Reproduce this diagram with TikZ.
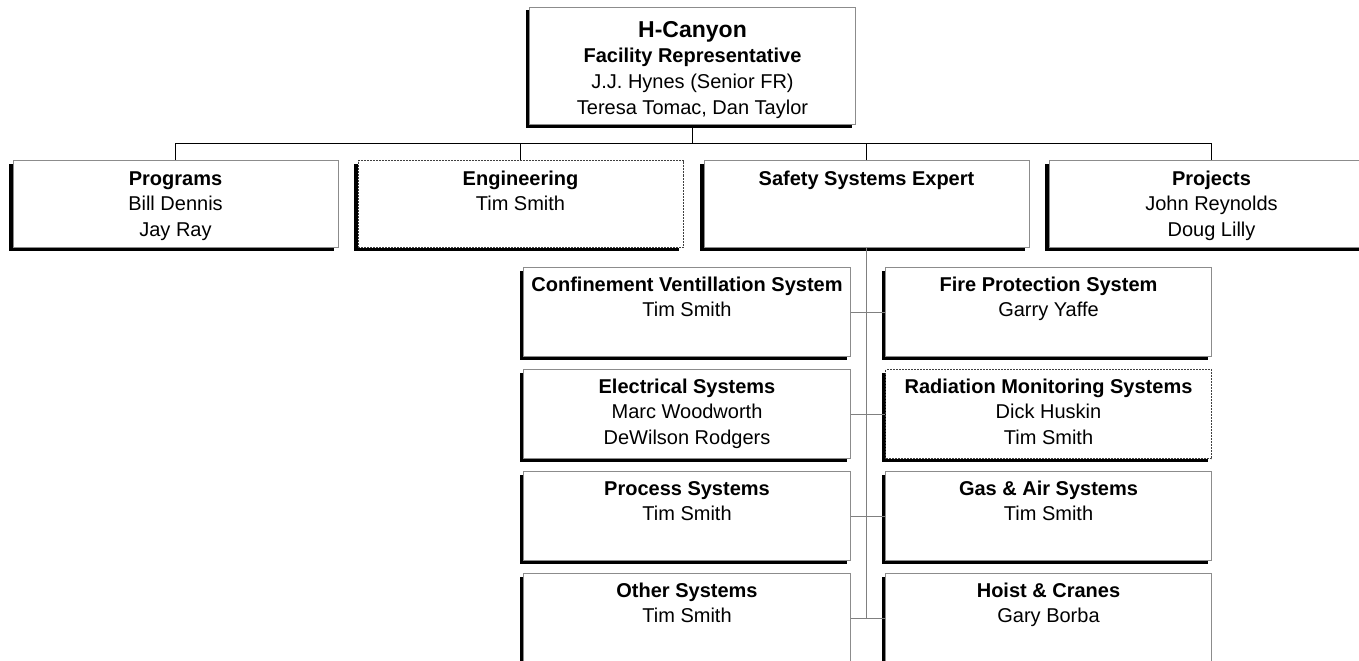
\documentclass[tikz,border=0pt]{standalone}
\usepackage{fontspec}
\setmainfont{Liberation Sans}
\usetikzlibrary{calc}
\definecolor{bordergray}{HTML}{8C8C8C}
\definecolor{linegray}{HTML}{808080}
\tikzset{
  boxshape/.style={draw=bordergray, fill=white, line width=0.75pt, inner sep=0pt, anchor=north west},
  dashbox/.style={draw=black!75, dash pattern=on 1.5pt off 0.75pt},
  txt/.style={anchor=north, inner sep=0pt, align=center, font=\fontsize{15}{19.25}\selectfont},
  conn/.style={draw=black, line width=0.75pt},
  gconn/.style={draw=linegray, line width=0.75pt},
}
% #1 name, #2 left, #3 top, #4 width, #5 height, #6 extra style, #7 text offset, #8 text
\newcommand\orgbox[8]{%
  \fill[black] (#2-3.5,#3+3.5) rectangle ++(#4,#5);
  \node[boxshape,#6,minimum width=#4*0.75pt,minimum height=#5*0.75pt] (#1) at (#2,#3) {};
  \node[txt] (#1-t) at ($(#1.north)+(0,#7)$) {\strut #8};
}
\begin{document}
\begin{tikzpicture}[x=0.75pt,y=-0.75pt]
\useasboundingbox (0,0) rectangle (1359,660);
\fill[white] (0,0) rectangle (1359,660);
\clip (0,0) rectangle (1359,660);

% top
\orgbox{top}{529}{7}{326}{117}{}{12}{\textbf{\fontsize{17.25}{19.25}\selectfont H-Canyon}\\\textbf{Facility Representative}\\J.J. Hynes (Senior FR)\\Teresa Tomac, Dan Taylor}

% second row
\orgbox{prog}{12.5}{160}{325}{87}{}{7}{\textbf{Programs}\\Bill Dennis\\Jay Ray}
\orgbox{eng}{357.5}{160}{325}{87}{dashbox}{7}{\textbf{Engineering}\\Tim Smith}
\orgbox{safe}{703.5}{160}{325}{87}{}{7}{\textbf{Safety Systems Expert}}
\orgbox{proj}{1048.5}{160}{325}{87}{}{7}{\textbf{Projects}\\John Reynolds\\Doug Lilly}

% lower boxes
\orgbox{conf}{523}{267}{327}{89}{}{6}{\textbf{Confinement Ventillation System}\\Tim Smith}
\orgbox{fire}{885}{267}{326}{89}{}{6}{\textbf{Fire Protection System}\\Garry Yaffe}
\orgbox{elec}{523}{369}{327}{89}{}{6}{\textbf{Electrical Systems}\\Marc Woodworth\\DeWilson Rodgers}
\orgbox{rad}{885}{369}{326}{89}{dashbox}{6}{\textbf{Radiation Monitoring Systems}\\Dick Huskin\\Tim Smith}
\orgbox{proc}{523}{471}{327}{89}{}{6}{\textbf{Process Systems}\\Tim Smith}
\orgbox{gas}{885}{471}{326}{89}{}{6}{\textbf{Gas \& Air Systems}\\Tim Smith}
\orgbox{oth}{523}{573}{327}{89}{}{6}{\textbf{Other Systems}\\Tim Smith}
\orgbox{hoist}{885}{573}{326}{89}{}{6}{\textbf{Hoist \& Cranes}\\Gary Borba}

% top-level connectors
\coordinate (bus) at (0,143);
\draw[conn] (top.south) -- (top.south |- bus);
\draw[conn] (prog.north) -- (prog.north |- bus) -- (proj.north |- bus) -- (proj.north);
\draw[conn] (eng.north) -- (eng.north |- bus);
\draw[conn] (safe.north) -- (safe.north |- bus);

% safety systems connectors
\draw[gconn] (safe.south) -- (safe.south |- oth.east);
\draw[gconn] (conf.east) -- (fire.west);
\draw[gconn] (elec.east) -- (rad.west);
\draw[gconn] (proc.east) -- (gas.west);
\draw[gconn] (oth.east) -- (hoist.west);
\end{tikzpicture}
\end{document}
